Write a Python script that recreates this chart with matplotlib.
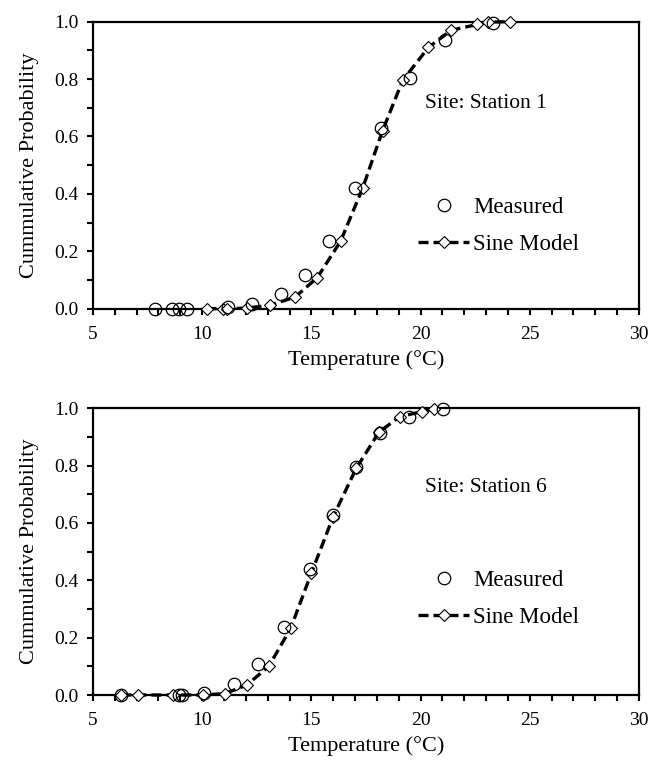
import matplotlib
matplotlib.use("Agg")
import matplotlib.pyplot as plt
from matplotlib.ticker import MultipleLocator

plt.rcParams['font.family'] = ['Liberation Serif', 'DejaVu Serif']

# Station 1
meas1_T = [7.85, 8.6, 8.95, 9.3, 11.2, 12.3, 13.6, 14.7, 15.8, 17.0, 18.2, 19.5, 21.1, 23.3]
meas1_P = [0, 0, 0, 0, 0.005, 0.015, 0.05, 0.117, 0.235, 0.42, 0.63, 0.805, 0.935, 0.995]
model1_T = [10.2, 10.95, 11.15, 12.05, 13.1, 14.25, 15.27, 16.34, 17.35, 18.26, 19.18,
            20.36, 21.4, 22.6, 23.1, 24.1]
model1_P = [0, 0, 0, 0.002, 0.012, 0.04, 0.108, 0.235, 0.42, 0.62, 0.795,
            0.91, 0.97, 0.99, 0.998, 1.0]

# Station 6
meas6_T = [6.3, 8.95, 9.1, 10.1, 11.45, 12.55, 13.75, 14.95, 16.0, 17.05, 18.15, 19.45, 21.05]
meas6_P = [0, 0, 0, 0.008, 0.038, 0.108, 0.238, 0.438, 0.628, 0.795, 0.915, 0.968, 0.997]
model6_T = [6.3, 7.05, 8.65, 10.05, 11.05, 12.05, 13.05, 14.05, 15.0, 16.0, 17.05,
            18.1, 19.05, 20.05, 20.6]
model6_P = [0, 0, 0, 0, 0.005, 0.035, 0.10, 0.232, 0.425, 0.622, 0.79,
            0.917, 0.971, 0.988, 0.997]

panels = [
    (meas1_T, meas1_P, model1_T, model1_P, 'Site: Station 1', [0.143, 0.596, 0.840, 0.3757], 0.716, 0.389),
    (meas6_T, meas6_P, model6_T, model6_P, 'Site: Station 6', [0.143, 0.0903, 0.840, 0.3753], 0.725, 0.436),
]

fig = plt.figure(figsize=(6.5, 7.64), dpi=100)

for mT, mP, sT, sP, site, rect, site_y, leg_y in panels:
    ax = fig.add_axes(rect)
    ax.plot(sT, sP, color='black', lw=2.4, dashes=(3.0, 1.5), marker='D', ms=6,
            mfc='white', mec='black', mew=0.8, label='Sine Model', zorder=3,
            clip_on=False)
    ax.plot(mT, mP, ls='none', marker='o', ms=9, mfc='none', mec='black', mew=0.9,
            label='Measured', zorder=4, clip_on=False)

    ax.set_xlim(5, 30)
    ax.set_ylim(0, 1.0)
    ax.xaxis.set_major_locator(MultipleLocator(5))
    ax.xaxis.set_minor_locator(MultipleLocator(1))
    ax.yaxis.set_major_locator(MultipleLocator(0.2))
    ax.yaxis.set_minor_locator(MultipleLocator(0.1))
    ax.yaxis.set_major_formatter(plt.FormatStrFormatter('%.1f'))
    ax.tick_params(axis='both', which='both', direction='out', width=1.5,
                   labelsize=14, colors='black')
    ax.tick_params(axis='x', which='both', length=4, pad=8.5)
    ax.tick_params(axis='y', which='both', length=4.5, pad=6)
    for sp in ax.spines.values():
        sp.set_linewidth(1.6)

    ax.set_xlabel('Temperature (°C)', fontsize=16, labelpad=5)
    ax.set_ylabel('Cummulative Probability', fontsize=16, labelpad=11)

    ax.text(23.0, site_y, site, fontsize=15.5, ha='center', va='center')

    h, l = ax.get_legend_handles_labels()
    ax.legend(h[::-1], l[::-1], loc='upper left', bbox_to_anchor=(0.596, leg_y),
              frameon=False, fontsize=16.5, handlelength=2.2, handletextpad=0.2,
              labelspacing=0.7, borderpad=0, borderaxespad=0)

fig.savefig('out.png', dpi=100)
